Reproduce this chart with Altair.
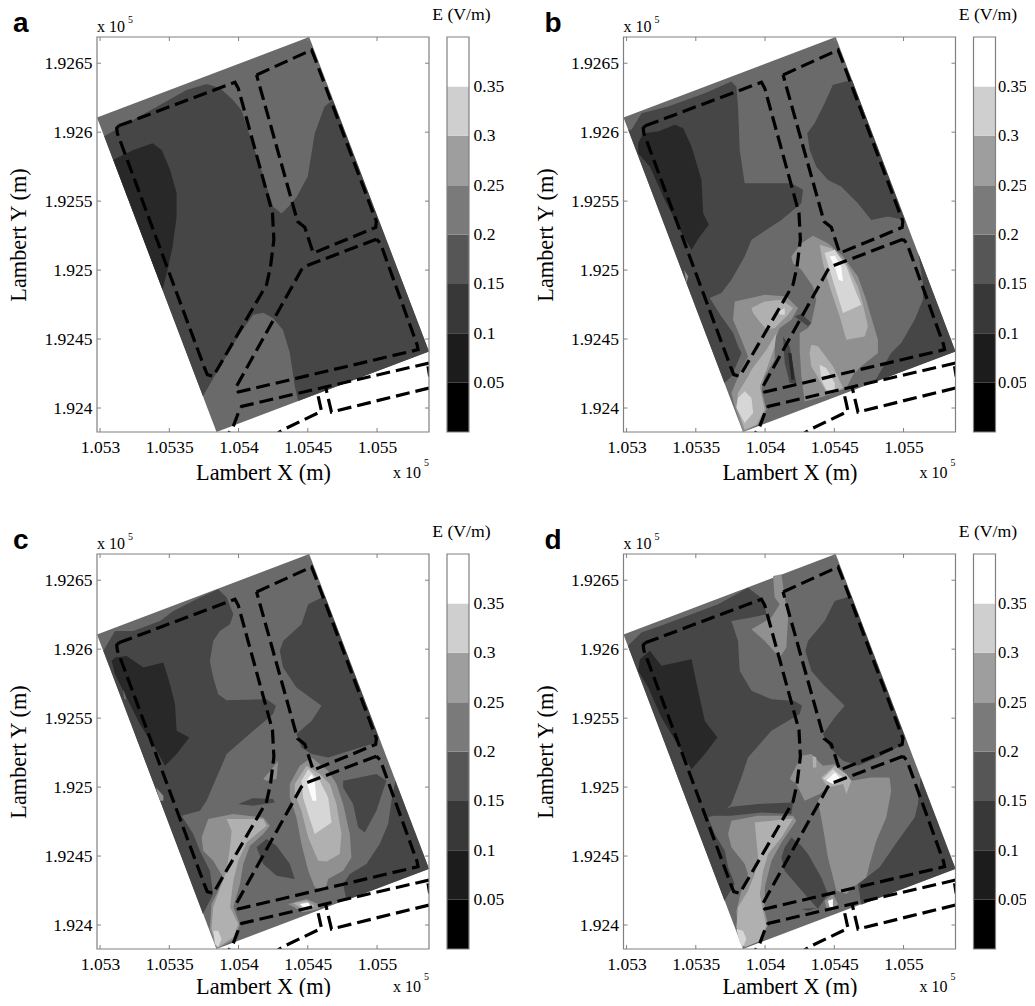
import altair as alt
import pandas as pd

X_TICKS = [0, 50, 100, 150, 200]
X_LABELS = ["1.053", "1.0535", "1.054", "1.0545", "1.055"]
Y_TICKS = [0, 50, 100, 150, 200, 250]
Y_LABELS = ["1.924", "1.9245", "1.925", "1.9255", "1.926", "1.9265"]
X_DOMAIN = [-2.2, 237.5]
Y_DOMAIN = [-17.4, 269.0]
CB_EDGES = [0, 0.05, 0.10, 0.15, 0.20, 0.25, 0.30, 0.35, 0.40]
CB_GRAYS = ["#000000", "#1c1c1c", "#383838", "#565656", "#7a7a7a", "#9e9e9e", "#cfcfcf", "#ffffff"]
CB_TICKS = [0.05, 0.10, 0.15, 0.20, 0.25, 0.30, 0.35]
D, I, M, N, O, P, W = "D", "I", "M", "N", "O", "P", "W"
FIELD_BANDS = [D, I, M, N, O, P, W]
FIELD_GRAYS = ["#282828", "#464646", "#6a6a6a", "#909090", "#b0b0b0", "#d6d6d6", "#fbfbfb"]

SITE = [(151, 269), (-2.2, 210.6), (84.1, -17.4), (237.5, 41)]

DASHES = [
    [(13.5,204.6),(97.4,236.2),(99.8,231.8),(124.5,141.3),(125.5,122),(123.1,102.6),(120.2,89.4),(81.7,22.9),(77.4,24.2),(75,30.2),(12.5,199.2),(12,202.9),(13.5,204.6)],
    [(113,241.5),(152.7,259.6),(155.1,253.6),(199.5,135.2),(199,130.9),(153.9,112.3),(147.8,131.1),(142.6,135.2),(113,241.5)],
    [(199.5,122.4),(147.8,102.6),(145.4,100.2),(97.8,14.5),(99.8,11.6),(229.6,42.3),(228.9,45.9),(202.4,119.5),(199.5,122.4)],
    [(237.5,32.6),(102.2,1.2),(99.8,-3.6),(96.2,-13.3),(91.4,-20.5)],
    [(237.5,14.5),(167.1,-2.9),(163,14.5)],
    [(157.5,8.5),(159.9,-2.4),(132.2,-15.7),(125,-20.5)],
    [(236.8,30.2),(238,22.9)],
]

PANEL_A = [
    (M, SITE),
    (I, [(3,197),(41,218.5),(62.5,230.6),(77,235),(86.5,232),(96,223.4),(102,216),(118,168),(125,146),(131,141),(136,146),(142,153),(150,168),(155,199),(162,218.5),(168,223.4),(237.5,41),(143,5),(140.6,15.7),(137,40),(132,56.8),(125,65),(118,69),(110.6,67.6),(101,54),(84,25.4),(74.3,8.5)]),
    (D, [(9.6,180),(24,187),(38,192),(44.5,187),(50.5,172.7),(55.3,155.8),(55.3,139),(52.4,117),(49.3,102.6),(45.2,85.7)]),
]

PANEL_B = [
    (M, SITE),
    (I, [(1.2,201.7),(3.6,201.7),(10.8,213.7),(30,218.6),(56.5,228.2),(75.7,236.7),(79.3,233),(80.5,218.6),(81.7,187.2),(85.3,163),(97.4,163),(119,163),(127.4,158.2),(126.2,148.5),(111.8,136.4),(90.2,122),(85.3,109.9),(75.7,93),(68.5,83.3),(60,79.7),(68.5,66.4),(77,54.3),(80.5,44.7),(83,39.8),(75.7,22.9),(70.7,18.1)]),
    (D, [(8.4,192),(12,199.2),(22.8,200.4),(34.9,205.3),(40.9,202.9),(46.9,189.6),(54.1,165.4),(55.3,141.3),(59.4,132.8),(52.9,124.4),(46.9,114.7),(39.7,126.8),(27.6,150.9),(16.8,175.1),(8.4,184.7)]),
    (I, [(162.8,237.9),(149,234.3),(143,221),(135.8,206.5),(130.5,199.2),(132.2,187.2),(137,175),(145.4,165.4),(155,160.6),(167,148.5),(176.7,136.4),(188.7,138.9),(201,136.4)]),
    (I, [(210.6,112.3),(214,90.6),(214,78.5),(208,64),(198.3,47.1),(191,39.8),(179,18.8),(237.5,41)]),
    (I, [(113,51.9),(117.8,44.7),(120.2,30.2),(122.6,18.1),(117.8,18.1),(114.2,32.6)]),
    (I, [(121.4,66.4),(126.2,68.3),(133.4,61.6),(131,59.2)]),
    (D, [(116.6,39.8),(119,39.8),(121.4,20.5),(119,20.5)]),
    (N, [(119,109.9),(126.2,119.5),(134.6,124.9),(145.4,119.5),(156.3,109.9),(167,95.4),(173,78.5),(177.9,61.6),(181.5,49.5),(181.5,39.8),(169.5,30.2),(163.5,24.2),(158.7,14.5),(143,8.5),(128.6,4.8),(126.2,22.9),(125,42.3),(125,54.3),(131,58),(133.4,61.6),(137,78.5),(134.6,88.1),(126.2,100.2),(120.2,105)]),
    (O, [(139.4,118.3),(147.8,115.9),(158.7,105),(167,88.1),(170.7,74.9),(174.3,59.2),(171.9,51.9),(158.7,49.5),(153.9,66.4),(146.6,88.1),(141.8,105)]),
    (P, [(143,112.3),(150.3,114.7),(158.7,102.6),(165.9,83.3),(169.5,74.9),(156.3,68.8),(150.3,88.1),(146.6,100.2)]),
    (W, [(146.6,109.9),(150.3,110.4),(155,102.6),(156.3,91.8),(153.1,93),(150.3,102.6)]),
    (O, [(133.4,45.9),(138.2,44.7),(149,30.2),(156.3,14.5),(145.4,9.7),(133.4,30.2),(132.2,39.8)]),
    (P, [(139.4,31.4),(144.2,29),(150.3,18.1),(150.3,12.1),(144.2,13.3),(140.6,20.5)]),
    (N, [(78.1,77.3),(99.8,82.1),(115.4,80.9),(123.8,72.5),(119,64),(110.6,58),(107,49.5),(107,35),(99.8,22.9),(97.4,13.3),(101,-1.2),(95,-12.1),(84.1,-17.4),(78.1,1.2),(75.7,10.9),(81.7,25.4),(87.7,37.4),(83,49.5),(76.9,64)]),
    (O, [(90.2,72.5),(99.8,77.3),(111.8,78.5),(120.2,72.5),(116.6,67.6),(107,58),(101,56.8),(95,64),(91.4,68.8)]),
    (O, [(108.2,54.3),(101,42.3),(90.2,27.8),(87.7,22.9),(80.5,10.9),(79.3,1.2),(85.3,-15.7),(93.8,-12.1),(99.8,-1.2),(96.2,15.7),(101,27.8),(107,44.7)]),
    (P, [(85.3,12.1),(90.2,7.2),(91.4,-3.6),(85.3,-10.9),(79.3,0),(80.5,7.2)]),
    (P, [(109.4,70),(114.2,72.5),(114.2,67.6),(110.6,67.6)]),
    (N, [(41.6,100.2),(44.5,95.4),(43.3,90.6)]),
]

PANEL_C = [
    (M, SITE),
    (I, [(2.4,198.8),(10.8,213.2),(24,213.2),(43.3,220.5),(52.9,227.7),(72.1,237.4),(85.3,243.4),(91.4,237.4),(96.2,225.3),(93.8,218),(86.5,213.2),(81.7,206),(79.3,191.5),(81.7,179.4),(85.3,167.4),(91.4,163),(120.2,163.7),(126.9,158.9),(125,152.9),(110.6,140.8),(91.4,123.9),(84.1,107),(76.9,90.1),(72.1,82.8),(58.9,79.2),(67.3,65.9),(72.1,53.9),(79.3,39.4),(81.7,22.5),(74.3,8)]),
    (D, [(8.4,191.5),(10.8,193.9),(19.2,195.1),(31.3,186.7),(45.7,190.3),(50.5,174.6),(54.1,160.1),(55.3,140.8),(64.4,136),(55.3,123.9),(46.9,115.4),(40.9,126.3),(28.8,145.6),(20.4,162.5),(10.8,181.8)]),
    (M, [(16.8,171),(19.2,163.7),(17.3,163.7)]),
    (I, [(162.3,238.6),(150.3,232.6),(145.4,218),(132.2,206),(129.8,198.8),(132.2,186.7),(141.8,172.2),(159.9,158.9),(152.7,148),(141.8,138.4),(145.4,128.7),(152.7,123.9),(164.7,121.5),(180.3,126.3),(199.5,132.3),(201.2,136)]),
    (I, [(175.5,104.6),(199.5,109.4),(206.7,104.6),(199.5,82.8),(191.1,67.1),(186.3,70.8),(182.7,87.7),(175.5,99.7)]),
    (I, [(213.2,104.6),(210.4,90.1),(208,73.2),(201.9,58.7),(192.3,44.2),(180.3,36.9),(175.5,29.7),(177.9,17.9),(237.5,40.6)]),
    (I, [(99.8,87.7),(110.6,92),(125,91.3),(126.2,88.9),(110.6,86.5)]),
    (I, [(113,56.3),(120.2,62.3),(127.4,57.5),(137,44.2),(140.6,33.3),(127.4,35.7),(117.8,44.2)]),
    (N, [(137,102.2),(144.2,115.4),(152.7,121.5),(164.7,111.8),(170.7,102.2),(175.5,87.7),(180.3,65.9),(181.5,49),(175.5,39.4),(164.7,33.3),(162.3,24.9),(155,27.3),(150.3,39.4),(145.4,58.7),(141.8,78),(137,92.5)]),
    (O, [(140.6,102.2),(149,115.4),(158.7,109.4),(165.9,102.2),(170.7,87.7),(174.3,65.9),(173,51.4),(163.5,46.1),(157.5,46.6),(150.3,63.5),(145.4,82.8),(140.6,94.9)]),
    (P, [(145.4,104.6),(150.3,113),(158.7,104.6),(164.7,92.5),(167.1,74.4),(155,65.9),(150.3,80.4),(146.6,92.5)]),
    (W, [(149,104.6),(152.7,109.4),(155,104.6),(156.3,90.1),(153.4,90.1),(151,97.3)]),
    (N, [(78.1,76.8),(96.2,80.4),(117.8,78),(122.6,72),(117.8,65.9),(108.2,57.5),(103.4,44.2),(101,29.7),(96.2,12.8),(101,0.7),(97.4,-10.1),(84.1,-17.4),(79.3,-2.9),(80.5,15.2),(85.3,24.9),(88.9,34.5),(81.7,46.6),(74.5,53.9),(73.3,63.5)]),
    (O, [(91.4,76.8),(117.8,76.8),(120.2,72),(113,65.9),(105.8,59.9),(99.8,46.6),(96.2,32.1),(93.8,12.8),(99.8,0.7),(96.2,-8.9),(85.3,-16.2),(80.5,-2.9),(81.7,12.8),(86.5,26.1),(91.4,39.4),(93.8,56.3),(95,68.3)]),
    (P, [(81.7,-4.1),(85.3,-4.1),(87.7,-10.1),(85.3,-16.2),(82.9,-13.8)]),
    (N, [(135.8,15.2),(149,18.8),(157.5,15.2),(158.7,11.6),(146.6,9.2)]),
    (O, [(139.4,15.7),(149,17.6),(155,14),(147.8,10.9)]),
    (W, [(144.2,15.2),(150.3,16.4),(151.5,14),(146.6,12.8)]),
    (N, [(117.8,105.8),(123.8,113),(128.6,119.1),(127.4,105.8),(120.2,104.6)]),
    (N, [(40.4,99.7),(45.7,93.7),(45.7,90.1),(43.3,90.1)]),
]

PANEL_D = [
    (M, SITE),
    (I, [(1,202.4),(10.8,212),(27.6,218),(46.9,225.3),(66.1,232.6),(87.7,244.6),(98.6,236.2),(101,225.3),(90.2,222.9),(75.7,220.5),(80.5,206),(81.7,184.3),(90.2,169.8),(104.6,163.7),(121.4,162.5),(126.7,158.9),(125,152.9),(104.6,140.8),(87.7,121.5),(82.9,107),(75.7,87.7),(70.9,82.8),(58.9,78),(63.7,65.9),(70.9,53.9),(73.3,41.8),(78.1,29.7),(70.7,17.6)]),
    (D, [(9.6,192.7),(16.8,198.8),(25.2,187.9),(46.9,192.7),(51.7,169.8),(56.5,148),(65.6,136),(56.5,123.9),(46.9,113),(39.7,126.3),(25.2,150.5),(15.6,172.2),(8.4,184.3)]),
    (I, [(162.3,238.6),(150.3,235),(143,220.5),(131,206),(129.1,198.8),(133.4,184.3),(141.8,174.6),(157.5,158.9),(150.3,150.5),(141.8,138.4),(146.6,128.7),(156.3,119.1),(167.1,115.4),(183.9,122.7),(199.5,131.1),(201.2,136)]),
    (I, [(212.3,107),(210.4,87.7),(208,78),(195.9,61.1),(182.7,41.8),(167.1,29.7),(169.5,14.7),(237.5,40.6)]),
    (I, [(119,63.5),(126.2,57.5),(131,51.4),(140.6,34.5),(145.4,22.5),(138.2,11.6),(128.6,22.5),(114.2,39.4),(111.8,49),(114.2,56.3)]),
    (I, [(58.9,79.2),(75.7,85.7),(95,87.7),(120.2,88.9),(119,80.4),(97.4,81.6),(75.7,79.2)]),
    (I, [(126.2,11.6),(137,12.3),(131,10.4)]),
    (N, [(138.2,90.1),(145.4,102.2),(162.3,104.6),(176.7,107),(189.9,107),(191.1,97.3),(187.5,78),(180.3,61.1),(175.5,44.2),(173.1,34.5),(163.5,27.3),(158.7,22.5),(151.5,24.9),(145.4,49),(141.8,70.8)]),
    (N, [(117.8,105.8),(126.2,122.7),(133.4,123.9),(141.8,115.4),(150.3,116.6),(162.3,104.6),(145.4,99.7),(139.4,94.9),(128.6,90.1),(122.6,102.2)]),
    (O, [(134.4,122.7),(137,121.5),(137,114.2),(134.6,114.2)]),
    (O, [(140.6,107),(150.3,115.4),(158.7,109.4),(162.3,104.6),(158.7,94.9),(156.3,102.2),(145.4,99.7)]),
    (P, [(141.8,105.8),(149,113),(156.3,107),(150.3,103.4)]),
    (W, [(144.2,104.6),(150.3,110.6),(153.9,107),(149,102.2)]),
    (N, [(105.8,253.1),(111.8,254.3),(114.2,237.4),(116.6,222.9),(115.4,201.2),(110.6,193.9),(99.8,206),(90.2,214.5),(104.6,222.9),(110.6,232.6),(106.9,237.4)]),
    (N, [(75.7,75.6),(95,79.2),(120.2,79.2),(122.6,75.6),(111.8,59.9),(104.6,46.6),(99.8,27.3),(99.8,10.4),(102.2,0.7),(97.4,-11.4),(87.7,-15),(80.5,-6.5),(79.3,10.4),(82.9,24.9),(87.7,36.9),(85.3,44.2),(75.7,56.3),(73.3,65.9)]),
    (O, [(92.6,74.4),(120.2,77.3),(111.8,63.5),(102.2,51.4),(98.6,39.4),(96.2,22.5),(98.6,10.4),(101,-0.5),(96.2,-11.4),(85.3,-16.2),(79.3,-1.7),(80.5,12.8),(87.7,24.9),(92.6,36.9),(95,49),(93.8,61.1)]),
    (P, [(79.3,-2.9),(84.1,-4.1),(86.5,-10.1),(84.1,-16.2),(81.7,-12.6)]),
    (N, [(143,17.6),(149,22.5),(152.7,15.2),(149,10.4),(144.2,12.8)]),
    (W, [(145.4,17.6),(149,18.8),(149,12.8),(146.6,12.8)]),
]

W_PLOT, H_PLOT = 332, 395
W_BAR = 22
SERIF = "Liberation Serif"
FRAME = "#808080"
LABEL_SIZE = 17.5
TITLE_SIZE = 22.3


def lookup(ticks, labels):
    pairs = ",".join(f"'{t}':'{l}'" for t, l in zip(ticks, labels))
    return "{" + pairs + "}[datum.value]"


def note(text, px, py, size, font=SERIF, weight="normal", align="left"):
    return alt.Chart(pd.DataFrame({"t": [text]})).mark_text(
        align=align, baseline="alphabetic", font=font, fontSize=size,
        fontWeight=weight, color="black",
    ).encode(x=alt.value(px), y=alt.value(py), text="t:N")


def frame(w, h):
    return alt.Chart(pd.DataFrame({"f": [0]})).mark_rect(
        fill=None, stroke=FRAME, strokeWidth=1.2
    ).encode(x=alt.value(0), x2=alt.value(w), y=alt.value(0), y2=alt.value(h))


def panel(polys, letter, letter_x, title_lift):
    rows = []
    for pid, (band, pts) in enumerate(polys):
        for i, (x, y) in enumerate(pts):
            rows.append({"x": x, "y": y, "band": band, "pid": pid, "i": i})
    field_df = pd.DataFrame(rows)
    dash_rows = []
    for lid, pts in enumerate(DASHES):
        for i, (x, y) in enumerate(pts):
            dash_rows.append({"x": x, "y": y, "lid": lid, "i": i})
    dash_df = pd.DataFrame(dash_rows)

    ex = alt.X("x:Q", scale=alt.Scale(domain=X_DOMAIN, nice=False, zero=False),
               axis=alt.Axis(values=X_TICKS, labelExpr=lookup(X_TICKS, X_LABELS), title="Lambert X (m)",
                             tickSize=0, domain=False, grid=False, labelFont=SERIF, labelFontSize=LABEL_SIZE,
                             labelColor="black", labelPadding=6, labelOverlap=False, labelFlush=False,
                             titleFont=SERIF, titleFontSize=TITLE_SIZE, titleFontWeight="normal",
                             titleColor="black", titlePadding=6 - title_lift))
    ey = alt.Y("y:Q", scale=alt.Scale(domain=Y_DOMAIN, nice=False, zero=False),
               axis=alt.Axis(values=Y_TICKS, labelExpr=lookup(Y_TICKS, Y_LABELS), title="Lambert Y (m)",
                             tickSize=0, domain=False, grid=False, labelFont=SERIF, labelFontSize=LABEL_SIZE,
                             labelColor="black", labelPadding=5, labelOverlap=False, labelFlush=False,
                             titleFont=SERIF, titleFontSize=TITLE_SIZE, titleFontWeight="normal",
                             titleColor="black", titlePadding=13))

    field = alt.Chart(field_df).mark_line(clip=True, strokeWidth=0, interpolate="linear-closed").encode(
        x=ex, y=ey,
        fill=alt.Fill("band:N", scale=alt.Scale(domain=FIELD_BANDS, range=FIELD_GRAYS), legend=None),
        detail="pid:N", order="i:Q",
    )
    dashes = alt.Chart(dash_df).mark_line(clip=True, color="black", strokeWidth=3.2, strokeDash=[14, 6]).encode(
        x="x:Q", y="y:Q", detail="lid:N", order="i:Q",
    )
    xt = pd.DataFrame({"t": X_TICKS})
    yt = pd.DataFrame({"t": Y_TICKS})
    tick_style = dict(color=FRAME, strokeWidth=1)
    ticks = [
        alt.Chart(xt).mark_rule(**tick_style).encode(x="t:Q", y=alt.value(0), y2=alt.value(4)),
        alt.Chart(xt).mark_rule(**tick_style).encode(x="t:Q", y=alt.value(H_PLOT - 4), y2=alt.value(H_PLOT)),
        alt.Chart(yt).mark_rule(**tick_style).encode(y="t:Q", x=alt.value(0), x2=alt.value(4)),
        alt.Chart(yt).mark_rule(**tick_style).encode(y="t:Q", x=alt.value(W_PLOT - 4), x2=alt.value(W_PLOT)),
    ]
    texts = [
        note(letter, letter_x, -5, 28, font="Liberation Sans", weight="bold"),
        note("x 10", 0, -5, 16),
        note("5", 31, -14, 10),
        note("x 10", 296, 441 - title_lift, 16),
        note("5", 327, 429 - title_lift, 10),
    ]
    return alt.layer(field, dashes, *ticks, frame(W_PLOT, H_PLOT), *texts).properties(width=W_PLOT, height=H_PLOT)


def colorbar(label_size, label_pad):
    df = pd.DataFrame({"lo": CB_EDGES[:-1], "hi": CB_EDGES[1:], "gray": CB_GRAYS})
    bar = alt.Chart(df).mark_rect().encode(
        x=alt.value(0), x2=alt.value(W_BAR),
        y=alt.Y("lo:Q", scale=alt.Scale(domain=[0, 0.4], nice=False, zero=False),
                axis=alt.Axis(orient="right", values=CB_TICKS, labelExpr="format(datum.value,'.2~f')",
                              title=None, tickSize=0, domain=False, grid=False, labelFont=SERIF,
                              labelFontSize=label_size, labelColor="black", labelPadding=label_pad,
                              labelOverlap=False, labelFlush=False)),
        y2="hi:Q",
        fill=alt.Fill("gray:N", scale=None),
    )
    return alt.layer(bar, frame(W_BAR, H_PLOT), note("E (V/m)", 14.4, -17.5, 17.7, align="center")).properties(
        width=W_BAR, height=H_PLOT
    )


def pair(polys, letter, letter_x, title_lift=0, label_size=LABEL_SIZE, label_pad=4):
    return alt.hconcat(panel(polys, letter, letter_x, title_lift), colorbar(label_size, label_pad), spacing=2)


chart = alt.vconcat(
    alt.hconcat(pair(PANEL_A, "a", -84), pair(PANEL_B, "b", -79, 0, 16.5, 2), spacing=29.5),
    alt.hconcat(pair(PANEL_C, "c", -84, 3), pair(PANEL_D, "d", -79, 3, 16.5, 2), spacing=29.5),
    spacing=38,
).properties(padding={"left": -1, "top": -3, "right": -1, "bottom": -1}).configure_view(stroke=None)

chart.save("out.html", embed_options={"renderer": "svg", "actions": False})
